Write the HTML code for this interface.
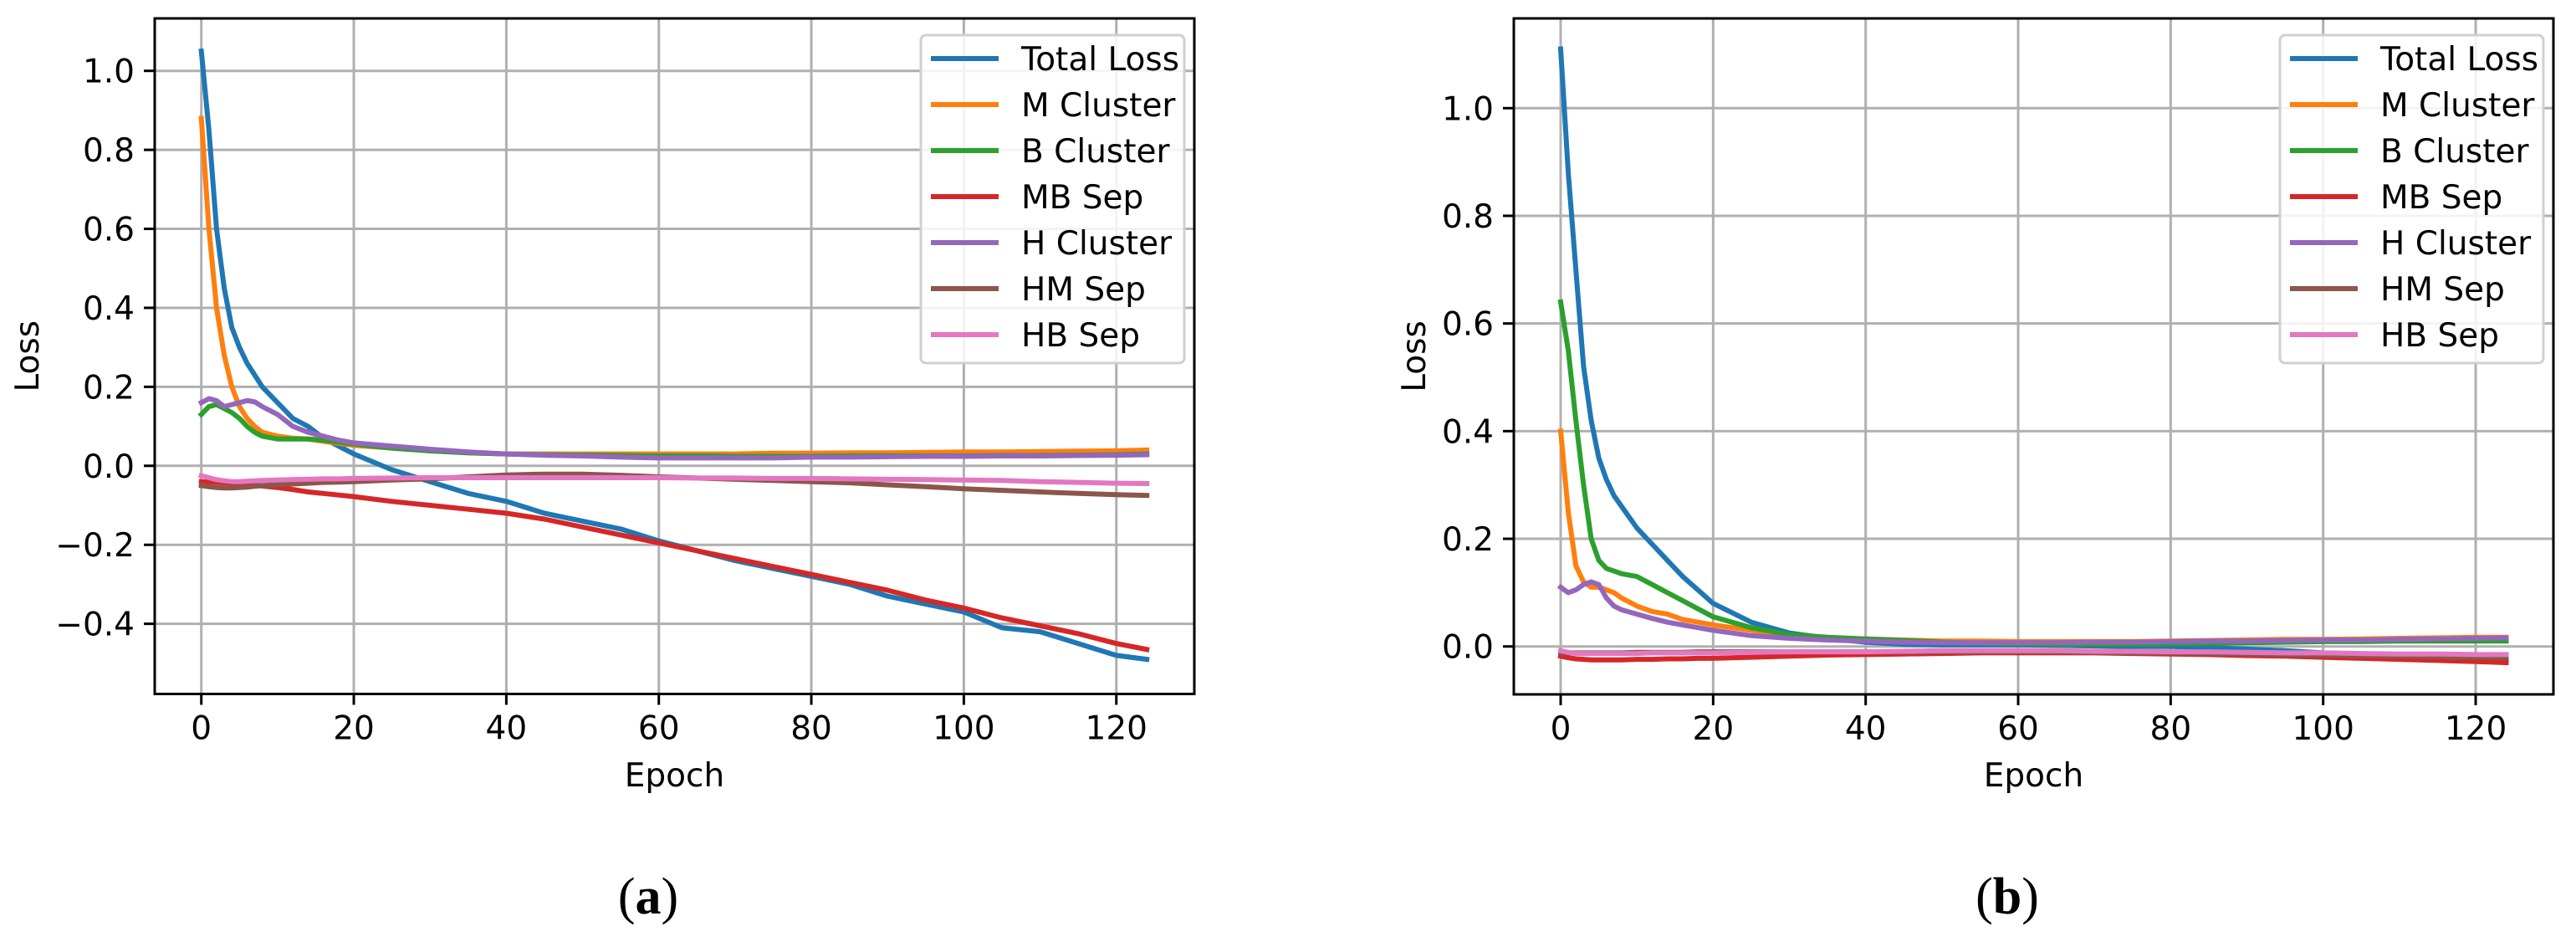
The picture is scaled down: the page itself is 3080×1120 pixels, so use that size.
<!DOCTYPE html>
<html><head><meta charset="utf-8">
<style>
html,body{margin:0;padding:0;background:#fff;}
svg{display:block;font-family:"DejaVu Sans","Liberation Sans",sans-serif;}
</style></head>
<body>
<svg id="fig" width="3080" height="1120" viewBox="0 0 3080 1120" xmlns="http://www.w3.org/2000/svg"></svg>
<script>
const epochs = [0,1,2,3,4,5,6,7,8,10,12,14,16,18,20,25,30,35,40,45,50,55,60,65,70,75,80,85,90,95,100,105,110,115,120,124];
const seriesNames = ["Total Loss","M Cluster","B Cluster","MB Sep","H Cluster","HM Sep","HB Sep"];
const seriesKeys = ["total-loss","m-cluster","b-cluster","mb-sep","h-cluster","hm-sep","hb-sep"];
const xTicks = [0,20,40,60,80,100,120];
const yTicksA = [-0.4,-0.2,0.0,0.2,0.4,0.6,0.8,1.0];
const yTicksB = [0.0,0.2,0.4,0.6,0.8,1.0];

const totalA = [1.05,.85,.6,.45,.35,.3,.26,.23,.2,.16,.12,.1,.07,.05,.03,-.01,-.04,-.07,-.09,-.12,-.14,-.16,-.19,-.215,-.24,-.26,-.28,-.3,-.33,-.35,-.37,-.41,-.42,-.45,-.48,-.49];
const mClusterA = [.88,.6,.4,.28,.2,.15,.12,.1,.085,.075,.07,.068,.062,.057,.052,.045,.038,.033,.03,.03,.03,.03,.03,.03,.03,.032,.032,.033,.033,.034,.035,.035,.036,.037,.038,.04];
const bClusterA = [.13,.15,.155,.145,.135,.12,.1,.085,.075,.068,.068,.068,.065,.06,.055,.045,.038,.033,.03,.028,.027,.026,.025,.025,.024,.024,.024,.025,.025,.025,.025,.026,.026,.027,.028,.03];
const mbSepA = [-.04,-.041,-.042,-.043,-.044,-.045,-.047,-.049,-.051,-.055,-.06,-.066,-.07,-.074,-.078,-.09,-.1,-.11,-.12,-.135,-.155,-.175,-.195,-.215,-.235,-.255,-.275,-.295,-.315,-.34,-.36,-.385,-.405,-.425,-.45,-.465];
const hClusterA = [.16,.17,.165,.15,.155,.16,.165,.162,.15,.13,.1,.085,.075,.065,.058,.05,.042,.035,.03,.027,.025,.022,.02,.02,.02,.02,.022,.022,.023,.024,.024,.025,.025,.026,.027,.028];
const hmSepA = [-.05,-.053,-.055,-.056,-.056,-.055,-.054,-.052,-.05,-.048,-.046,-.044,-.042,-.041,-.04,-.036,-.033,-.028,-.023,-.021,-.021,-.024,-.028,-.031,-.034,-.037,-.04,-.043,-.048,-.053,-.058,-.062,-.066,-.07,-.073,-.075];
const hbSepA = [-.025,-.03,-.035,-.038,-.04,-.04,-.039,-.038,-.037,-.036,-.035,-.034,-.033,-.033,-.032,-.031,-.03,-.03,-.03,-.03,-.03,-.03,-.03,-.031,-.031,-.032,-.032,-.033,-.034,-.035,-.036,-.037,-.04,-.042,-.044,-.045];

const totalB = [1.11,.88,.7,.52,.42,.35,.31,.28,.26,.22,.19,.16,.13,.105,.08,.045,.025,.015,.008,.004,.003,.003,.003,.002,.001,0,0,-.002,-.005,-.008,-.012,-.014,-.015,-.017,-.02,-.022];
const mClusterB = [.4,.25,.15,.12,.11,.11,.105,.1,.09,.075,.065,.06,.05,.045,.04,.03,.02,.016,.014,.012,.01,.01,.009,.009,.009,.009,.01,.011,.012,.013,.013,.014,.015,.016,.017,.017];
const bClusterB = [.64,.55,.42,.3,.2,.16,.145,.14,.135,.13,.115,.1,.085,.07,.055,.035,.022,.017,.014,.011,.008,.006,.005,.004,.004,.004,.005,.006,.007,.008,.009,.009,.01,.01,.01,.01];
const mbSepB = [-.018,-.021,-.023,-.024,-.025,-.025,-.025,-.025,-.025,-.024,-.024,-.023,-.023,-.022,-.022,-.02,-.018,-.016,-.015,-.014,-.013,-.012,-.012,-.012,-.012,-.013,-.014,-.015,-.017,-.018,-.02,-.022,-.024,-.026,-.028,-.03];
const hClusterB = [.11,.1,.105,.115,.12,.115,.09,.075,.068,.06,.052,.045,.04,.035,.03,.02,.015,.012,.01,.008,.007,.007,.007,.007,.008,.008,.009,.01,.01,.011,.012,.012,.013,.014,.015,.016];
const hmSepB = [-.012,-.012,-.012,-.012,-.012,-.012,-.012,-.012,-.012,-.011,-.011,-.011,-.011,-.01,-.01,-.01,-.01,-.01,-.01,-.01,-.01,-.01,-.01,-.01,-.011,-.012,-.012,-.013,-.014,-.015,-.016,-.017,-.018,-.019,-.02,-.02];
const hbSepB = [-.008,-.011,-.013,-.013,-.013,-.013,-.013,-.013,-.013,-.013,-.012,-.012,-.012,-.012,-.012,-.011,-.01,-.01,-.01,-.009,-.008,-.008,-.008,-.008,-.009,-.009,-.01,-.01,-.011,-.012,-.012,-.013,-.014,-.014,-.015,-.015];

const colors = ["#1f77b4","#ff7f0e","#2ca02c","#d62728","#9467bd","#8c564b","#e377c2"];
const NS = "http://www.w3.org/2000/svg";
const fig = document.getElementById('fig');
function mk(tag, attrs, parent, text){
  const e = document.createElementNS(NS, tag);
  for (const k in attrs) e.setAttribute(k, attrs[k]);
  if (text !== undefined) e.textContent = text;
  parent.appendChild(e);
  return e;
}
function fmt(v){ return (v<0?"\u2212":"") + Math.abs(v).toFixed(1); }

function panel(id, cfg, data, yTicks){
  const g = mk('g', {}, fig);
  
  
  const X = e => cfg.x0 + e*cfg.px;
  const Y = v => cfg.y0 - v*cfg.py;
  xTicks.forEach(t => {
    const l = mk('line', {x1:X(t),x2:X(t),y1:cfg.top,y2:cfg.bottom,stroke:"#b0b0b0","stroke-width":3}, g);
    
    
  });
  yTicks.forEach(t => {
    const l = mk('line', {x1:cfg.left,x2:cfg.right,y1:Y(t),y2:Y(t),stroke:"#b0b0b0","stroke-width":3}, g);
    
    
  });
  data.forEach((vals, i) => {
    const d = vals.map((v, j) => (j?"L":"M") + X(epochs[j]).toFixed(1) + "," + Y(v).toFixed(1)).join(" ");
    const p = mk('path', {d:d, fill:"none", stroke:colors[i], "stroke-width":6, "stroke-linejoin":"round", "stroke-linecap":"square"}, g);
    
    
  });
  const fr = mk('rect', {x:cfg.left, y:cfg.top, width:cfg.right-cfg.left, height:cfg.bottom-cfg.top, fill:"none", stroke:"#000", "stroke-width":3}, g);
  
  
  xTicks.forEach(t => {
    mk('line', {x1:X(t),x2:X(t),y1:cfg.bottom,y2:cfg.bottom+13,stroke:"#000","stroke-width":3}, g);
    const tx = mk('text', {x:X(t), y:cfg.bottom+54, "font-size":39, "text-anchor":"middle", fill:"#000"}, g, String(t));
    
    
  });
  yTicks.forEach(t => {
    mk('line', {x1:cfg.left-13,x2:cfg.left,y1:Y(t),y2:Y(t),stroke:"#000","stroke-width":3}, g);
    const tx = mk('text', {x:cfg.left-24, y:Y(t)+14, "font-size":39, "text-anchor":"end", fill:"#000"}, g, fmt(t));
    
    
  });
  const xl = mk('text', {x:(cfg.left+cfg.right)/2, y:940, "font-size":39, "text-anchor":"middle"}, g, "Epoch");
  
  
  const yl = mk('text', {x:0, y:0, "font-size":39, "text-anchor":"middle", transform:`translate(${cfg.ylabX},${(cfg.top+cfg.bottom)/2}) rotate(-90)`}, g, "Loss");
  
  
  const lg = mk('g', {}, g);
  
  
  mk('rect', {x:cfg.legX, y:42, width:315, height:392, rx:6, fill:"#fff", "fill-opacity":0.85, stroke:"#d0d0d0", "stroke-width":3}, lg);
  seriesNames.forEach((n, i) => {
    const yy = 70 + i*55;
    const en = mk('g', {}, lg);
    
    
    mk('line', {x1:cfg.legX+12, x2:cfg.legX+93, y1:yy, y2:yy, stroke:colors[i], "stroke-width":6}, en);
    mk('text', {x:cfg.legX+120, y:yy+14, "font-size":39}, en, n);
  });
  const cap = mk('text', {x:cfg.capX, y:1092, "font-size":62, "text-anchor":"middle", "font-family":"'Liberation Serif','DejaVu Serif',serif"}, g);
  
  
  mk('tspan', {}, cap, "(");
  mk('tspan', {"font-weight":"bold"}, cap, id);
  mk('tspan', {}, cap, ")");
}

panel('a', {left:185, right:1428, top:22, bottom:829.5, x0:240.7, px:9.117, y0:556.8, py:472.1, ylabX:46, legX:1101, capX:775},
  [totalA, mClusterA, bClusterA, mbSepA, hClusterA, hmSepA, hbSepA], yTicksA);
panel('b', {left:1810, right:3053, top:22, bottom:830, x0:1866, px:9.117, y0:772.7, py:643.4, ylabX:1704, legX:2726, capX:2400},
  [totalB, mClusterB, bClusterB, mbSepB, hClusterB, hmSepB, hbSepB], yTicksB);
</script>
</body></html>
